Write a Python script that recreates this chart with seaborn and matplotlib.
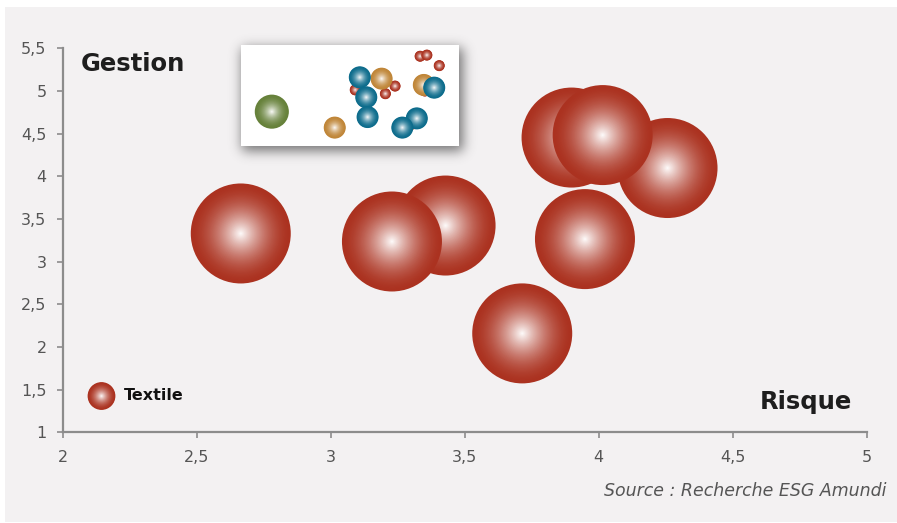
import numpy as np
import pandas as pd
import matplotlib
matplotlib.use("Agg")
import matplotlib.pyplot as plt
import seaborn as sns
from matplotlib.colors import to_rgb, to_hex
from matplotlib.patches import Rectangle

# --- Données : secteur Textile (risque, gestion) ---
risque = [2.665, 3.429, 3.229, 3.715, 3.949, 3.899, 4.257, 4.015]
gestion = [3.33, 3.423, 3.236, 2.159, 3.264, 4.454, 4.097, 4.483]
poids = [1.0, 1.0, 1.0, 1.0, 1.0, 1.0, 1.0, 1.0]

x_ticks = [2, 2.5, 3, 3.5, 4, 4.5, 5]
x_labels = ["2", "2,5", "3", "3,5", "4", "4,5", "5"]
y_ticks = [1, 1.5, 2, 2.5, 3, 3.5, 4, 4.5, 5, 5.5]
y_labels = ["1", "1,5", "2", "2,5", "3", "3,5", "4", "4,5", "5", "5,5"]

# --- Vue d'ensemble (tous secteurs) ---
ens_secteur = ["Agro", "Chimie", "Chimie", "Chimie",
               "Pharma", "Pharma", "Pharma", "Pharma", "Pharma", "Pharma",
               "Textile", "Textile", "Textile", "Textile", "Textile",
               "Textile", "Textile", "Textile"]
ens_risque = [2.424, 3.29, 3.935, 4.516,
              3.635, 3.724, 3.742, 4.659, 4.419, 4.22,
              3.572, 3.987, 4.12, 4.465, 4.558, 4.728, 4.53, 4.35]
ens_gestion = [2.53, 1.82, 4.0, 3.72,
               4.06, 3.17, 2.29, 3.6, 2.23, 1.82,
               3.5, 3.33, 3.67, 5.0, 5.05, 4.58, 3.45, 1.97]
ens_poids = [2.4, 1.0, 1.0, 1.0,
             1.0, 1.0, 1.0, 1.0, 1.0, 1.0,
             0.25, 0.25, 0.25, 0.25, 0.25, 0.25, 0.25, 0.25]

couleurs = {"Textile": "#ab3220", "Agro": "#66813a", "Chimie": "#c08638",
            "Pharma": "#0d6c8c"}

BG = "#f3f1f2"
W, H = 897, 523


def gradient(base, n, expo=1.7):
    """Colours from the rim (index 0) to the highlight (index n-1)."""
    c = np.array(to_rgb(base))
    cols = []
    for k in range(n):
        t = 1 - k / n  # relative radius
        f = 1 - (1 - t) ** expo
        cols.append(to_hex(c * f + (1 - f) * np.ones(3)))
    return cols


def bubble(ax, x, y, area, base, n=45, expo=1.7, **kw):
    layers = np.arange(n)
    frac = 1 - layers / n
    df = pd.DataFrame({"x": [x] * n, "y": [y] * n, "layer": layers})
    pal = dict(zip(layers, gradient(base, n, expo)))
    sizes = dict(zip(layers, area * frac ** 2))
    sns.scatterplot(data=df, x="x", y="y", hue="layer", size="layer",
                    palette=pal, sizes=sizes, linewidth=0, legend=False,
                    ax=ax, **kw)


def gaussian_blur(img, sigma):
    r = int(3 * sigma)
    k = np.exp(-0.5 * (np.arange(-r, r + 1) / sigma) ** 2)
    k /= k.sum()
    out = np.apply_along_axis(lambda v: np.convolve(v, k, mode="same"), 0, img)
    out = np.apply_along_axis(lambda v: np.convolve(v, k, mode="same"), 1, out)
    return out


sns.set_theme(style="ticks")
plt.rcParams["font.family"] = ["DejaVu Sans"]

fig = plt.figure(figsize=(W / 100, H / 100), dpi=100, facecolor="white")

# Grey panel
fig.patches.append(Rectangle((5 / W, 1 - 522 / H), 892 / W, 515 / H,
                             transform=fig.transFigure, facecolor=BG,
                             edgecolor="none", zorder=-10))

ax = fig.add_axes([62.5 / W, 1 - 432.3 / H, (866.7 - 62.5) / W,
                   (432.3 - 48.3) / H])
ax.set_facecolor("none")

BIG = 5184  # marker area (pt^2) for a bubble of weight 1
for xi, yi, wi in zip(risque, gestion, poids):
    bubble(ax, xi, yi, BIG * wi, couleurs["Textile"])

# Legend
bubble(ax, 0.0485, 0.0945, 400, couleurs["Textile"], n=25,
       transform=ax.transAxes, clip_on=False)
ax.text(124 / W, 1 - 396 / H, "Textile", transform=fig.transFigure,
        fontsize=11.5, fontweight="semibold", color="#111111",
        ha="left", va="center")

ax.set_xlim(2, 5)
ax.set_ylim(1, 5.5)
for side in ["top", "right"]:
    ax.spines[side].set_visible(False)
for side in ["left", "bottom"]:
    ax.spines[side].set_color("#8c8c8c")
    ax.spines[side].set_linewidth(1.6)

ax.set_xticks(x_ticks)
ax.set_xticklabels(x_labels)
ax.set_yticks(y_ticks)
ax.set_yticklabels(y_labels)
ax.tick_params(axis="both", direction="out", length=4.5, width=1.2,
               color="#8c8c8c", labelcolor="#555555", labelsize=11.5,
               bottom=True, left=True)
ax.tick_params(axis="x", pad=8)
ax.tick_params(axis="y", pad=7)
ax.set_xlabel("")
ax.set_ylabel("")
ax.grid(False)

# Axis titles
ax.text(81 / W, 1 - 64 / H, "Gestion", transform=fig.transFigure,
        fontsize=17.5, fontweight="semibold", color="#1e1e1e",
        ha="left", va="center")
ax.text(852 / W, 1 - 402 / H, "Risque", transform=fig.transFigure,
        fontsize=17.5, fontweight="semibold", color="#1e1e1e",
        ha="right", va="center")

# Source
fig.text(886 / W, 1 - 491 / H, "Source : Recherche ESG Amundi",
         fontsize=12.5, style="italic", color="#555555",
         ha="right", va="center")

# Overview inset with a soft drop shadow
x0, y0, x1, y1 = 241, 45, 459, 146
mask = np.zeros((H, W))
mask[y0 + 3:y1 + 5, x0 + 1:x1 + 4] = 1.0
shadow = gaussian_blur(mask, 6.0) * 0.7
rgba = np.zeros((H, W, 4))
rgba[..., :3] = 0.25
rgba[..., 3] = shadow
sh_ax = fig.add_axes([0, 0, 1, 1])
sh_ax.set_zorder(5)
sh_ax.imshow(rgba, extent=(0, W, H, 0), interpolation="bilinear")
sh_ax.set_axis_off()

ins = fig.add_axes([x0 / W, 1 - y1 / H, (x1 - x0) / W, (y1 - y0) / H])
ins.set_zorder(6)
ins.set_facecolor("white")

SMALL = 251
ordre = ["Textile", "Agro", "Chimie", "Pharma"]
for sect in ordre:
    for s_, xi, yi, wi in zip(ens_secteur, ens_risque, ens_gestion, ens_poids):
        if s_ == sect:
            bubble(ins, xi, yi, SMALL * wi, couleurs[sect], n=22, expo=1.8)

ins.set_xlim(2, 5)
ins.set_ylim(1, 5.5)
ins.set_xticks([])
ins.set_yticks([])
ins.set_xlabel("")
ins.set_ylabel("")
for s in ins.spines.values():
    s.set_visible(False)

fig.savefig("out.png", dpi=100, facecolor="white")
